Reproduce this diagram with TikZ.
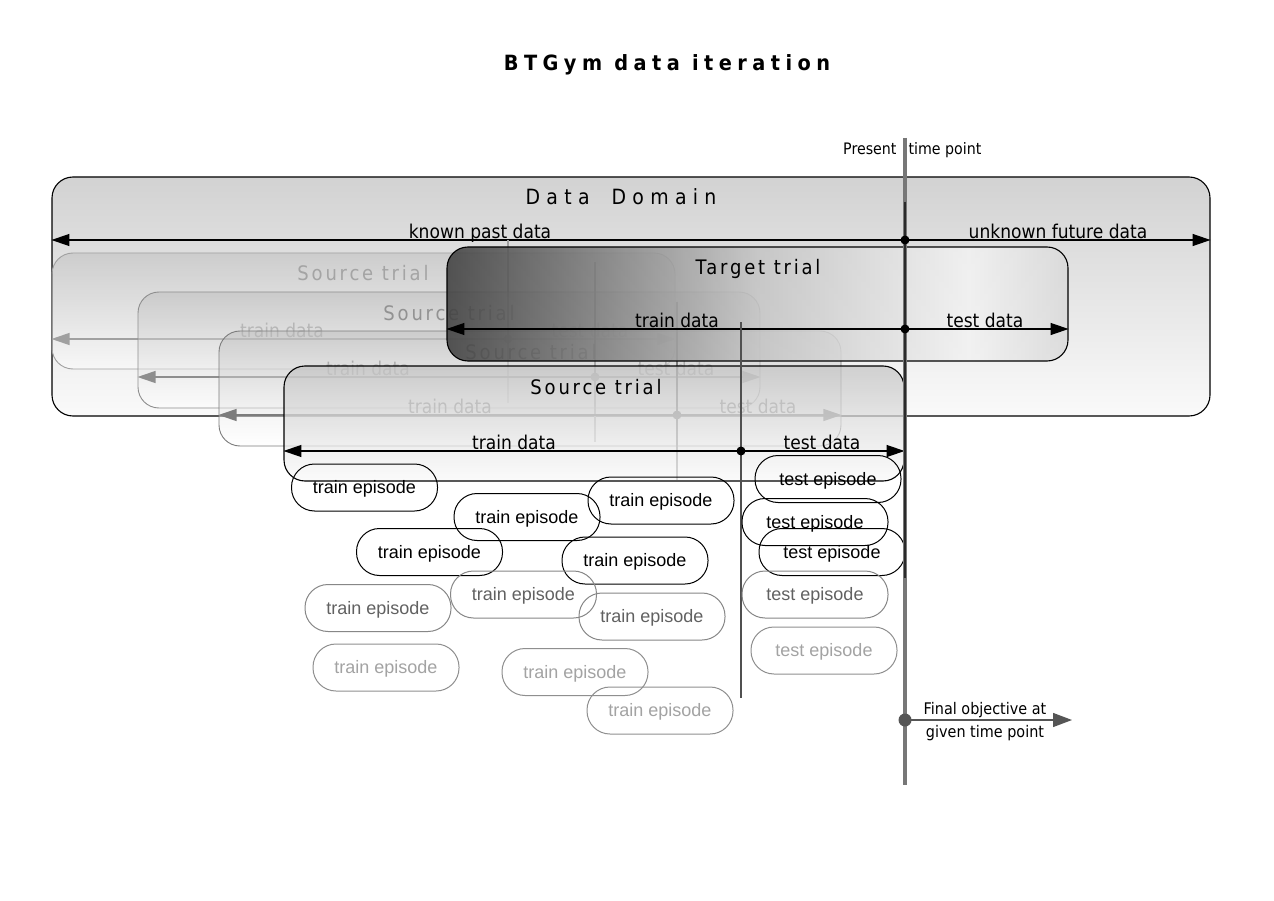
\documentclass[tikz,border=0pt]{standalone}
\usepackage{fontspec}
\usetikzlibrary{arrows.meta}
\newfontfamily\vf[FakeStretch=0.9]{DejaVu Sans}
\newfontfamily\vfsp[FakeStretch=0.9,LetterSpace=14]{DejaVu Sans}
\newfontfamily\vfwide[FakeStretch=0.9,LetterSpace=30]{DejaVu Sans}
\newfontfamily\vftitle[FakeStretch=0.92,LetterSpace=26]{DejaVu Sans}
\newfontfamily\af{Liberation Sans}
\definecolor{ddtop}{HTML}{D2D2D2}
\definecolor{ddbot}{HTML}{FAFAFA}
\definecolor{trtop}{HTML}{B8B8B8}
\definecolor{frtop}{HTML}{C4C4C4}
\definecolor{frbot}{HTML}{FAFAFA}
\definecolor{tgA}{HTML}{404040}
\definecolor{tgB}{HTML}{7E7E7E}
\definecolor{tgC}{HTML}{C4C4C4}
\definecolor{tgD}{HTML}{F2F2F2}
\definecolor{tgE}{HTML}{DADADA}
\definecolor{t1line}{HTML}{A0A0A0}
\definecolor{t1txt}{HTML}{A4A4A4}
\definecolor{t2line}{HTML}{8E8E8E}
\definecolor{t2txt}{HTML}{929292}
\definecolor{t3line}{HTML}{7C7C7C}
\definecolor{t3txt}{HTML}{888888}
\definecolor{ptgray}{HTML}{777777}
\definecolor{ptdark}{HTML}{2A2A2A}
\definecolor{splitdark}{HTML}{505050}
\definecolor{fogray}{HTML}{555555}
\definecolor{epBline}{HTML}{878787}
\definecolor{epBtxt}{HTML}{616161}
\definecolor{epCline}{HTML}{8F8F8F}
\definecolor{epCtxt}{HTML}{A3A3A3}
\pgfdeclarehorizontalshading{tgtshade}{100bp}{color(0bp)=(tgA); color(25bp)=(tgA); color(37bp)=(tgB); color(50bp)=(tgC); color(67bp)=(tgD); color(75bp)=(tgE); color(100bp)=(tgE)}
\begin{document}
\begin{tikzpicture}[x=1pt,y=-1pt,
  every node/.style={inner sep=0pt},
  lbl/.style={anchor=base, font=\vf\fontsize{19}{22}\selectfont},
  ttl/.style={anchor=base, font=\vfsp\fontsize{20}{24}\selectfont},
  arr/.style={line width=1.2pt, -{Triangle[length=18pt,width=12pt]}},
  split/.style={line width=1.2pt},
  dot/.style={circle, minimum size=9pt},
  databox/.style={draw=black, line width=1.1pt, rounded corners=21pt, top color=ddtop, bottom color=ddbot},
  trialbox/.style={rounded corners=21pt, top color=trtop, bottom color=white, fill opacity=0.45, line width=0.9pt},
  tgtbox/.style={rounded corners=21pt, shade, shading=tgtshade, fill opacity=0.88, draw=black, line width=1.1pt},
  frontbox/.style={rounded corners=21pt, top color=frtop, bottom color=frbot, fill opacity=0.72, draw=black, line width=1.1pt},
  ep/.style={rounded corners=23pt, minimum width=146pt, minimum height=47pt, line width=1pt, text height=14.5pt, text depth=2pt, font=\af\fontsize{18}{20}\selectfont},
  epA/.style={ep, draw=black, text=black},
  epB/.style={ep, draw=epBline, text=epBtxt},
  epC/.style={ep, draw=epCline, text=epCtxt}
]
\useasboundingbox (0,0) rectangle (1274,901);
\fill[white] (0,0) rectangle (1274,901);

% title
\node[anchor=base, font=\vftitle\bfseries\fontsize{21}{25}\selectfont] (title) at (667,71) {BTGym data iteration};

% data domain
\node[databox, minimum width=1158pt, minimum height=239pt] (dd) at (631,296.5) {};
\node[anchor=base, font=\vfwide\fontsize{21}{24}\selectfont] (ddt) at (621,205) {Data\hspace{22pt}Domain};
\coordinate (ddsp) at (905,240);
\draw[arr] (ddsp) -- (dd.west |- ddsp);
\draw[arr] (ddsp) -- (dd.east |- ddsp);
\node[lbl] (kpd) at (480,238.5) {known past data};
\node[lbl] (ufd) at (1058,238.5) {unknown future data};

% source trial 1
\node[trialbox, draw=t1line, minimum width=623pt, minimum height=116pt] (s1) at (363.5,311) {};
\node[ttl, text=t1txt] (s1t) at (363,281) {Source trial};
\coordinate (s1sp) at (508,339);
\coordinate (s1u) at (508,240);
\coordinate (s1d) at (508,403);
\draw[split, t1line] (s1u) -- (s1d);
\draw[arr, t1line] (s1sp) -- (s1.west |- s1sp);
\draw[arr, t1line] (s1sp) -- (s1.east |- s1sp);
\node[dot, fill=t1line] (s1dot) at (s1sp) {};
\node[lbl, text=t1txt] (s1a) at (282,337.5) {train data};
\node[lbl, text=t1txt] (s1b) at (590,337.5) {test data};

% source trial 2
\node[trialbox, draw=t2line, minimum width=622pt, minimum height=116pt] (s2) at (449,350) {};
\node[ttl, text=t2txt] (s2t) at (449,320) {Source trial};
\coordinate (s2sp) at (595,377);
\coordinate (s2u) at (595,262);
\coordinate (s2d) at (595,442);
\draw[split, t2line] (s2u) -- (s2d);
\draw[arr, t2line] (s2sp) -- (s2.west |- s2sp);
\draw[arr, t2line] (s2sp) -- (s2.east |- s2sp);
\node[dot, fill=t2line] (s2dot) at (s2sp) {};
\node[lbl, text=t2txt] (s2a) at (368,375.5) {train data};
\node[lbl, text=t2txt] (s2b) at (676,375.5) {test data};

% source trial 3
\node[trialbox, draw=t3line, minimum width=622pt, minimum height=115pt] (s3) at (530,388.5) {};
\node[ttl, text=t3txt] (s3t) at (531,359) {Source trial};
\coordinate (s3sp) at (677,415);
\coordinate (s3u) at (677,302);
\coordinate (s3d) at (677,480);
\draw[split, t3line] (s3u) -- (s3d);
\draw[arr, t3line] (s3sp) -- (s3.west |- s3sp);
\draw[arr, t3line] (s3sp) -- (s3.east |- s3sp);
\node[dot, fill=t3line] (s3dot) at (s3sp) {};
\node[lbl, text=t3txt] (s3a) at (450,413.5) {train data};
\node[lbl, text=t3txt] (s3b) at (758,413.5) {test data};

% target trial
\node[tgtbox, minimum width=621pt, minimum height=114pt] (tg) at (757.5,304) {};
\node[ttl] (tgt) at (758,274.5) {Target trial};
\coordinate (tgsp) at (905,329);
\draw[arr] (tgsp) -- (tg.west |- tgsp);
\draw[arr] (tgsp) -- (tg.east |- tgsp);
\node[lbl] (tga) at (677,327.5) {train data};
\node[lbl] (tgb) at (985,327.5) {test data};

% front source trial
\node[frontbox, minimum width=620pt, minimum height=115pt] (s4) at (594,423.5) {};
\node[ttl] (s4t) at (596,394.5) {Source trial};
\coordinate (s4sp) at (741,451);
\draw[arr] (s4sp) -- (s4.west |- s4sp);
\draw[arr] (s4sp) -- (s4.east |- s4sp);
\node[lbl] (s4a) at (514,449.5) {train data};
\node[lbl] (s4b) at (822,449.5) {test data};
\coordinate (s4u) at (741,322);
\coordinate (s4d) at (741,698);
\draw[line width=1.6pt, splitdark] (s4u) -- (s4d);
\node[dot, fill=black] (s4dot) at (s4sp) {};

% train episodes
\node[epA] (e1) at (364.5,487.5) {train episode};
\node[epA] (e2) at (527,517) {train episode};
\node[epA] (e3) at (661,500.5) {train episode};
\node[epA] (e4) at (429.5,552) {train episode};
\node[epA] (e5) at (635,560.5) {train episode};
\node[epB] (e6) at (378,608) {train episode};
\node[epB] (e7) at (523.5,594.5) {train episode};
\node[epB] (e8) at (652,616.5) {train episode};
\node[epC] (e9) at (386,667.5) {train episode};
\node[epC] (e10) at (575,672) {train episode};
\node[epC] (e11) at (660,710.5) {train episode};

% test episodes
\node[epA] (x1) at (828,479) {test episode};
\node[epA] (x2) at (815,522) {test episode};
\node[epA] (x3) at (832,552) {test episode};
\node[epB] (x4) at (815,594.5) {test episode};
\node[epC] (x5) at (824,650.5) {test episode};

% present time point
\coordinate (pt1) at (905,138);
\coordinate (pt2) at (905,785);
\draw[line width=4.5pt, ptgray] (pt1) -- (pt2);
\coordinate (pk1) at (905,202);
\coordinate (pk2) at (905,578);
\draw[line width=1.8pt, ptdark] (pk1) -- (pk2);
\node[anchor=base west, font=\vf\fontsize{15.8}{18}\selectfont] (ptl) at (843,155) {Present\hspace{12pt}time point};
\node[dot, fill=black] (dddot) at (ddsp) {};
\node[dot, fill=black] (tgdot) at (tgsp) {};

% final objective
\node[circle, minimum size=13pt, fill=fogray] (fod) at (905,720) {};
\coordinate (foe) at (1072,720);
\draw[line width=1.3pt, fogray, -{Triangle[length=19pt,width=14pt]}] (fod.center) -- (foe);
\node[font=\vf\fontsize{16}{23}\selectfont, align=center] (fot) at (985,722) {Final objective at\\given time point};
\end{tikzpicture}
\end{document}
